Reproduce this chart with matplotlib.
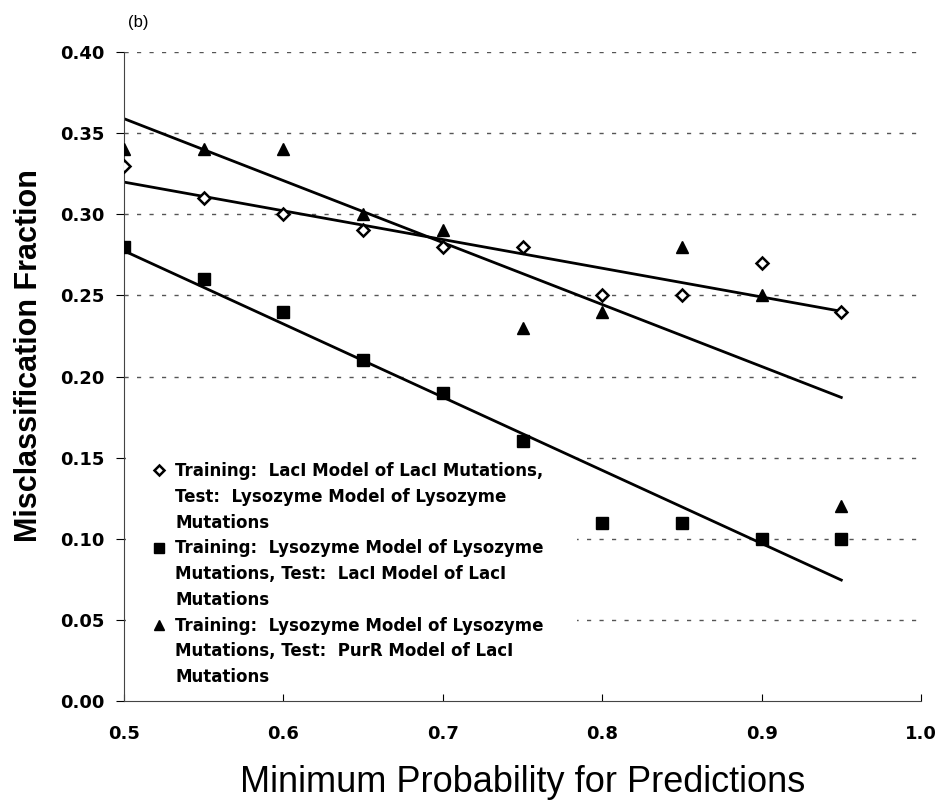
import numpy as np
import matplotlib
matplotlib.use("Agg")
import matplotlib.pyplot as plt
from matplotlib.lines import Line2D
from matplotlib.patches import Rectangle

# minimum probability thresholds
min_prob = [0.50, 0.55, 0.60, 0.65, 0.70, 0.75, 0.80, 0.85, 0.90, 0.95]

# misclassification fractions per train/test combination
lacl_on_lys = [0.33, 0.31, 0.30, 0.29, 0.28, 0.28, 0.25, 0.25, 0.27, 0.24]
lys_on_lacl = [0.28, 0.26, 0.24, 0.21, 0.19, 0.16, 0.11, 0.11, 0.10, 0.10]
lys_on_purr = [0.34, 0.34, 0.34, 0.30, 0.29, 0.23, 0.24, 0.28, 0.25, 0.12]

labels = [
    ["Training:  LacI Model of LacI Mutations,", "Test:  Lysozyme Model of Lysozyme", "Mutations"],
    ["Training:  Lysozyme Model of Lysozyme", "Mutations, Test:  LacI Model of LacI", "Mutations"],
    ["Training:  Lysozyme Model of Lysozyme", "Mutations, Test:  PurR Model of LacI", "Mutations"],
]

y_ticks = [0.00, 0.05, 0.10, 0.15, 0.20, 0.25, 0.30, 0.35, 0.40]
x_ticks = [0.5, 0.6, 0.7, 0.8, 0.9, 1.0]

plt.rcParams["font.family"] = ["Liberation Sans", "DejaVu Sans"]

fig = plt.figure(figsize=(9.41, 8.01), dpi=100)
ax = fig.add_axes([124 / 941, 1 - 701 / 801, (921 - 124) / 941, (701 - 52) / 801])

# dashed grid
for yv in y_ticks[1:]:
    ax.axhline(yv, color="#555555", lw=1, ls=(0, (3, 6)), zorder=0)

# blank area behind the legend hides the grid there
ax.add_patch(Rectangle((0.003, 0.006), 0.566, 0.386, transform=ax.transAxes,
                       facecolor="white", edgecolor="none", zorder=1))

x = np.array(min_prob)
styles = [
    (lacl_on_lys, dict(marker="D", ms=6.5, mfc="white", mec="black", mew=1.8)),
    (lys_on_lacl, dict(marker="s", ms=9, mfc="black", mec="black")),
    (lys_on_purr, dict(marker="^", ms=9, mfc="black", mec="black")),
]
handles, leg_labels = [], []
for (vals, st), lab in zip(styles, labels):
    ax.plot(x, vals, ls="none", zorder=3, **st)
    # linear trend line, as in the original spreadsheet chart
    k, b = np.polyfit(x, vals, 1)
    ax.plot(x[[0, -1]], k * x[[0, -1]] + b, color="black", lw=2, zorder=2)
    handles.append(Line2D([], [], ls="none", **{**st, "ms": st["ms"] * 0.75}))
    leg_labels.append(lab[0])
    for extra in lab[1:]:
        handles.append(Line2D([], [], ls="none"))
        leg_labels.append(extra)

ax.set_xlim(0.5, 1.0)
ax.set_ylim(0, 0.40)
ax.set_xticks(x_ticks)
ax.set_xticklabels([f"{v:.1f}" for v in x_ticks])
ax.set_yticks(y_ticks)
ax.set_yticklabels([f"{v:.2f}" for v in y_ticks])
ax.spines["top"].set_visible(False)
ax.spines["right"].set_visible(False)
ax.spines["left"].set_color("#444444")
ax.spines["bottom"].set_color("#444444")
ax.tick_params(axis="x", direction="in", length=5, pad=17, labelsize=13)
ax.tick_params(axis="y", direction="out", length=6, pad=8, labelsize=13)
for t in ax.get_xticklabels() + ax.get_yticklabels():
    t.set_fontweight("bold")
    t.set_family("DejaVu Sans")

ax.set_xlabel("Minimum Probability for Predictions", fontsize=26, labelpad=16)
ax.set_ylabel("Misclassification Fraction", fontsize=22, fontweight="bold")
ax.yaxis.set_label_coords(-0.10, 0.532)

ax.legend(handles, leg_labels, loc="upper left", bbox_to_anchor=(0.034, 0.368),
          frameon=False, handlelength=1.0, handletextpad=0.45, labelspacing=0.465,
          borderpad=0, borderaxespad=0,
          prop={"size": 12, "weight": "bold", "family": "DejaVu Sans"})

fig.text(128 / 941, 1 - 23 / 801, "(b)", fontsize=12, va="center")

fig.savefig("out.png", dpi=100)
